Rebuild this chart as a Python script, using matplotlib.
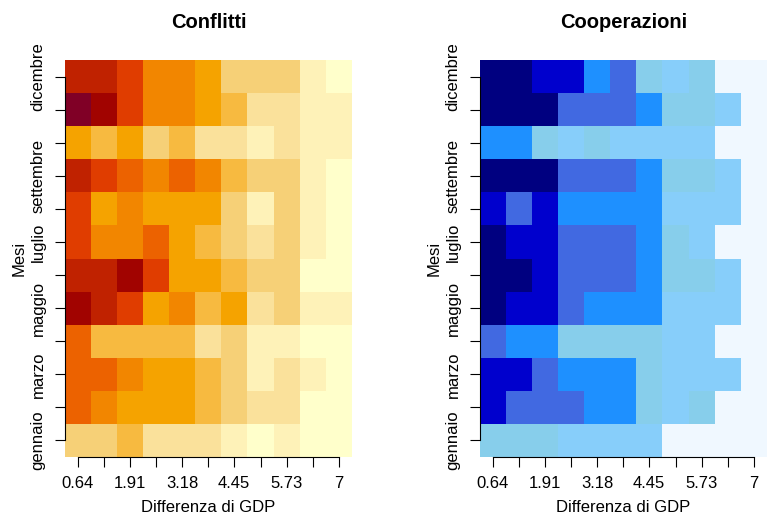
import numpy as np
import matplotlib
matplotlib.use("Agg")
import matplotlib.pyplot as plt
from matplotlib.colors import ListedColormap, BoundaryNorm

plt.rcParams['font.family'] = ['Liberation Sans', 'DejaVu Sans']

# x: differenza di GDP (centri delle celle), y: mesi
gdp_diff = [0.64, 1.27, 1.91, 2.54, 3.18, 3.82, 4.45, 5.09, 5.73, 6.36, 7.0]
gdp_labels = ['0.64', '', '1.91', '', '3.18', '', '4.45', '', '5.73', '', '7']
mesi = [1, 2, 3, 4, 5, 6, 7, 8, 9, 10, 11, 12]
mesi_labels = ['gennaio', '', 'marzo', '', 'maggio', '', 'luglio', '',
               'settembre', '', '', 'dicembre']

# classi di colore (0 = più scuro), righe da gennaio a dicembre
conflitti = [
    [8, 8, 7, 9, 9, 9, 10, 11, 10, 11, 11],
    [4, 5, 6, 6, 6, 7, 8, 9, 9, 11, 11],
    [4, 4, 5, 6, 6, 7, 8, 10, 9, 10, 11],
    [4, 7, 7, 7, 7, 9, 8, 10, 10, 11, 11],
    [1, 2, 3, 6, 5, 7, 6, 9, 8, 10, 10],
    [2, 2, 1, 3, 6, 6, 7, 8, 8, 11, 11],
    [3, 5, 5, 4, 6, 7, 8, 9, 8, 10, 11],
    [3, 6, 5, 6, 6, 6, 8, 10, 8, 10, 11],
    [2, 3, 4, 5, 4, 5, 7, 8, 8, 10, 11],
    [6, 7, 6, 8, 7, 9, 9, 10, 9, 10, 10],
    [0, 1, 3, 5, 5, 6, 7, 9, 9, 10, 10],
    [2, 2, 3, 5, 5, 6, 8, 8, 8, 10, 11],
]
cooperazioni = [
    [4, 4, 4, 5, 5, 5, 5, 6, 6, 6, 6],
    [1, 2, 2, 2, 3, 3, 4, 5, 4, 6, 6],
    [1, 1, 2, 3, 3, 3, 4, 5, 5, 5, 6],
    [2, 3, 3, 4, 4, 4, 4, 5, 5, 6, 6],
    [0, 1, 1, 2, 3, 3, 3, 5, 5, 5, 6],
    [0, 0, 1, 2, 2, 2, 3, 4, 4, 5, 6],
    [0, 1, 1, 2, 2, 2, 3, 4, 5, 6, 6],
    [1, 2, 1, 3, 3, 3, 3, 5, 5, 5, 6],
    [0, 0, 0, 2, 2, 2, 3, 4, 4, 5, 6],
    [3, 3, 4, 5, 4, 5, 5, 5, 5, 6, 6],
    [0, 0, 0, 2, 2, 2, 3, 4, 4, 5, 6],
    [0, 0, 1, 1, 3, 2, 4, 5, 4, 6, 6],
]

heat_cols = ['#800026', '#A10300', '#C02200', '#E03D00', '#EC6200', '#F28600',
             '#F5A300', '#F7BA40', '#F6D077', '#FAE19B', '#FEF2B8', '#FFFFCB']
blue_cols = ['#000080', '#0000CD', '#4169E1', '#1E90FF', '#87CEEB', '#87CEFA', '#F0F8FF']

fig = plt.figure(figsize=(7.68, 5.15), dpi=100)
ax_l = fig.add_axes([65 / 768, 1 - 457 / 515, 287 / 768, 397 / 515])
ax_r = fig.add_axes([480 / 768, 1 - 457 / 515, 287 / 768, 397 / 515])


def draw_panel(ax, data, colors, title):
    cmap = ListedColormap(colors)
    norm = BoundaryNorm(np.arange(len(colors) + 1) - 0.5, len(colors))
    ax.pcolormesh(gdp_diff, mesi, np.array(data), cmap=cmap, norm=norm,
                  shading='nearest', antialiased=False)
    ax.set_title(title, fontsize=14.5, fontweight='bold', pad=23)
    ax.set_xticks(gdp_diff)
    ax.set_xticklabels(gdp_labels, fontsize=12)
    ax.set_yticks(mesi)
    ax.set_yticklabels(mesi_labels, fontsize=12, rotation=90, va='center')
    ax.set_xlabel('Differenza di GDP', fontsize=12, labelpad=6)
    ax.set_ylabel('Mesi', fontsize=12, labelpad=2.5)
    ax.tick_params(axis='both', length=7, width=0.8, pad=7, colors='black')
    for s in ['top', 'right']:
        ax.spines[s].set_visible(False)
    ax.spines['bottom'].set_bounds(gdp_diff[0], gdp_diff[-1])
    ax.spines['left'].set_bounds(mesi[0], mesi[-1])
    ax.spines['bottom'].set_linewidth(0.8)
    ax.spines['left'].set_linewidth(0.8)


draw_panel(ax_l, conflitti, heat_cols, 'Conflitti')
draw_panel(ax_r, cooperazioni, blue_cols, 'Cooperazioni')

fig.savefig('out.png', dpi=100)
